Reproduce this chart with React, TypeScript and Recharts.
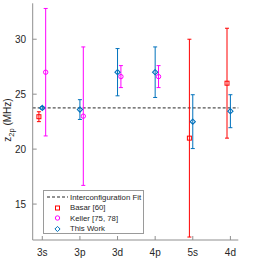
import React from 'react';
import { ComposedChart, Scatter, ErrorBar, XAxis, YAxis, ReferenceLine, Legend } from 'recharts';

const categories = ['3s', '3p', '3d', '4p', '5s', '4d'];

const basarCats = ['3s', '5s', '4d'];
const basarValues = [22.95, 21.0, 26.0];
const basarErrors = [0.45, 9.0, 5.0];

const kellerCats = ['3s', '3p', '3d', '4p'];
const kellerValues = [27.0, 23.0, 26.6, 26.6];
const kellerErrors = [5.8, 6.3, 1.0, 1.0];

const thisWorkCats = ['3s', '3p', '3d', '4p', '5s', '4d'];
const thisWorkValues = [23.75, 23.6, 27.0, 27.0, 22.5, 23.45];
const thisWorkErrors = [0.12, 0.9, 2.15, 2.3, 2.45, 1.5];

const interconfigFit = 23.75;
const yTicks = [15, 20, 25, 30];
const legendLabels = ['Interconfiguration Fit', 'Basar [60]', 'Keller [75, 78]', 'This Work'];

const RED = '#ff0000';
const MAGENTA = '#ff00ff';
const BLUE = '#0072bd';
const TEXT = '#262626';
const AXIS = '#8f8f8f';
const FONT = '"Liberation Sans", Arial, sans-serif';

// small horizontal shift so overlapping points stay readable
const toPoints = (cats: string[], vals: number[], errs: number[], shift: number) =>
  cats.map((c, i) => ({ x: categories.indexOf(c) + 1 + shift, y: vals[i], err: errs[i] }));

const basarData = toPoints(basarCats, basarValues, basarErrors, -0.09);
const kellerData = toPoints(kellerCats, kellerValues, kellerErrors, 0.09);
const thisWorkData = toPoints(thisWorkCats, thisWorkValues, thisWorkErrors, 0);

const Square = (props: any) => {
  const { cx, cy } = props;
  return <rect x={cx - 2} y={cy - 2} width={4} height={4} fill="none" stroke={RED} strokeWidth={1} />;
};
const Circle = (props: any) => {
  const { cx, cy } = props;
  return <circle cx={cx} cy={cy} r={2.2} fill="none" stroke={MAGENTA} strokeWidth={1} />;
};
const Diamond = (props: any) => {
  const { cx, cy } = props;
  const d = 2.6;
  return (
    <path
      d={`M${cx},${cy - d}L${cx + d},${cy}L${cx},${cy + d}L${cx - d},${cy}Z`}
      fill="none"
      stroke={BLUE}
      strokeWidth={1.1}
    />
  );
};

const legendIcons = [
  <line key="l" x1={0} y1={5} x2={21} y2={5} stroke={TEXT} strokeDasharray="3 2" />,
  <rect key="s" x={8.5} y={3} width={4} height={4} fill="none" stroke={RED} />,
  <circle key="c" cx={10.5} cy={5} r={2.2} fill="none" stroke={MAGENTA} />,
  <path key="d" d="M10.5,2.4L13.1,5L10.5,7.6L7.9,5Z" fill="none" stroke={BLUE} />,
];

function LegendBox() {
  return (
    <div
      style={{
        border: '1px solid #9a9a9a',
        background: '#fff',
        padding: '1px 2px 1px 3px',
        fontFamily: FONT,
        fontSize: 7.8,
        color: TEXT,
        boxSizing: 'border-box',
        width: 101,
        height: 44,
      }}
    >
      {legendLabels.map((label, i) => (
        <div key={label} style={{ display: 'flex', alignItems: 'center', height: 10.5 }}>
          <svg width={21} height={10} style={{ marginRight: 2, flexShrink: 0 }}>
            {legendIcons[i]}
          </svg>
          <span style={{ whiteSpace: 'nowrap' }}>{label}</span>
        </div>
      ))}
    </div>
  );
}

function YLabel() {
  return (
    <text
      x={11}
      y={120}
      transform="rotate(-90, 11, 120)"
      textAnchor="middle"
      fill={TEXT}
      fontSize={10}
      fontFamily={FONT}
    >
      <tspan>z</tspan>
      <tspan dy={2.5} fontSize={7.5}>2p</tspan>
      <tspan dy={-2.5}> (MHz)</tspan>
    </text>
  );
}

export default function App() {
  return (
    <div style={{ position: 'absolute', left: 0, top: 0, background: '#fff' }}>
      <ComposedChart width={255} height={261} margin={{ top: 3.3, right: 16.7, bottom: 0, left: 0.7 }}>
        <XAxis
          xAxisId="b"
          type="number"
          dataKey="x"
          domain={[0.745, 6.21]}
          ticks={[1, 2, 3, 4, 5, 6]}
          tickFormatter={(v: number) => categories[v - 1]}
          allowDataOverflow
          height={21}
          tickSize={-4}
          tickMargin={12.4}
          stroke={AXIS}
          tick={{ fill: TEXT, fontSize: 10, fontFamily: FONT }}
        />
        <XAxis
          xAxisId="t"
          orientation="top"
          type="number"
          domain={[0.745, 6.21]}
          ticks={[1, 2, 3, 4, 5, 6]}
          allowDataOverflow
          height={0}
          tickSize={-4}
          tick={false}
          stroke={AXIS}
        />
        <YAxis
          yAxisId="l"
          type="number"
          domain={[11.73, 33.27]}
          ticks={yTicks}
          allowDataOverflow
          width={32}
          tickSize={-4}
          tickMargin={10.5}
          stroke={AXIS}
          tick={{ fill: TEXT, fontSize: 10, fontFamily: FONT }}
          label={<YLabel />}
        />
        <YAxis
          yAxisId="r"
          orientation="right"
          type="number"
          domain={[11.73, 33.27]}
          ticks={yTicks}
          allowDataOverflow
          width={0}
          tickSize={-4}
          tick={false}
          stroke={AXIS}
        />
        <ReferenceLine
          xAxisId="b"
          yAxisId="l"
          y={interconfigFit}
          stroke={TEXT}
          strokeDasharray="3 2"
          strokeWidth={1}
        />
        <Scatter xAxisId="b" yAxisId="l" data={basarData} dataKey="y" shape={<Square />} isAnimationActive={false}>
          <ErrorBar dataKey="err" direction="y" width={2} stroke={RED} strokeWidth={1} isAnimationActive={false} />
        </Scatter>
        <Scatter xAxisId="b" yAxisId="l" data={kellerData} dataKey="y" shape={<Circle />} isAnimationActive={false}>
          <ErrorBar dataKey="err" direction="y" width={2} stroke={MAGENTA} strokeWidth={1} isAnimationActive={false} />
        </Scatter>
        <Scatter xAxisId="b" yAxisId="l" data={thisWorkData} dataKey="y" shape={<Diamond />} isAnimationActive={false}>
          <ErrorBar dataKey="err" direction="y" width={2} stroke={BLUE} strokeWidth={1} isAnimationActive={false} />
        </Scatter>
        <Legend
          layout="vertical"
          align="center"
          verticalAlign="middle"
          content={() => <LegendBox />}
          wrapperStyle={{ left: 43, top: 190, width: 101, height: 44 }}
        />
      </ComposedChart>
    </div>
  );
}
